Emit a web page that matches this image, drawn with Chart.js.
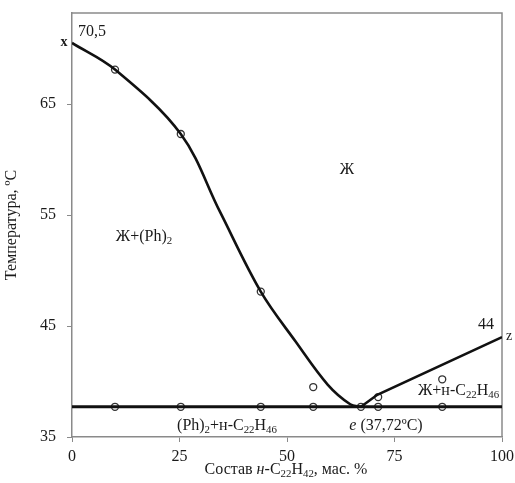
<!DOCTYPE html>
<html>
<head>
<meta charset="utf-8">
<script src="https://cdn.jsdelivr.net/npm/chart.js@4.4.1/dist/chart.umd.min.js"></script>
<style>
  html, body { margin: 0; padding: 0; background: #fff; }
</style>
</head>
<body>
<canvas id="phase-canvas" width="515" height="483"></canvas>
<script>
// liquidus of (Ph)2
var liquidusX = [0, 10, 25.3, 34.4, 43.9, 52, 59.5, 64.7, 67.2];
var liquidusT = [70.5, 68.1, 62.3, 55.3, 48.1, 43.6, 39.7, 37.95, 37.72];
// liquidus of n-C22H46
var rightX = [67.2, 71, 100];
var rightT = [37.72, 38.8, 44];
// eutectic horizontal
var eutecticX = [0, 100];
var eutecticT = [37.72, 37.72];
// experimental points (open circles)
var pointsX = [10, 25.3, 43.9, 56.1, 71.2, 86.1, 10, 25.3, 43.9, 56.1, 67.2, 71.2, 86.1];
var pointsT = [68.1, 62.3, 48.1, 39.5, 38.6, 40.2, 37.72, 37.72, 37.72, 37.72, 37.72, 37.72, 37.72];
// axis ticks
var xTicks = [0, 25, 50, 75, 100];
var yTicks = [35, 45, 55, 65];

var FONT = '"Liberation Serif", "Times New Roman", serif';
var AXIS_GRAY = '#8a8a8a';

function toXY(xs, ys) {
  return xs.map(function (x, i) { return { x: x, y: ys[i] }; });
}

// draw text made of pieces, some subscript / italic
function drawRich(ctx, segs, x, y, size, align) {
  var total = 0;
  segs.forEach(function (s) {
    var sz = s.sub ? size * 0.68 : size;
    ctx.font = (s.italic ? 'italic ' : '') + sz + 'px ' + FONT;
    s._w = ctx.measureText(s.t).width;
    total += s._w;
  });
  var cx = align === 'left' ? x : x - total / 2;
  ctx.textBaseline = 'middle';
  ctx.textAlign = 'left';
  segs.forEach(function (s) {
    var sz = s.sub ? size * 0.68 : size;
    ctx.font = (s.italic ? 'italic ' : '') + sz + 'px ' + FONT;
    ctx.fillText(s.t, cx, s.sub ? y + size * 0.28 : y);
    cx += s._w;
  });
}

var labels = [
  { segs: [{ t: '70,5' }], x: 92, y: 32, size: 16 },
  { segs: [{ t: 'x' }], x: 64, y: 42, size: 14, bold: true },
  { segs: [{ t: '44' }], x: 486, y: 325, size: 16 },
  { segs: [{ t: 'z' }], x: 509, y: 336, size: 14 },
  { segs: [{ t: 'Ж' }], x: 347, y: 170, size: 16 },
  { segs: [{ t: 'Ж+(Ph)' }, { t: '2', sub: true }], x: 144, y: 237, size: 16 },
  { segs: [{ t: '(Ph)' }, { t: '2', sub: true }, { t: '+н-C' }, { t: '22', sub: true }, { t: 'H' }, { t: '46', sub: true }], x: 227, y: 426, size: 16 },
  { segs: [{ t: 'е', italic: true }, { t: ' (37,72ºC)' }], x: 386, y: 426, size: 16 },
  { segs: [{ t: 'Ж+н-C' }, { t: '22', sub: true }, { t: 'H' }, { t: '46', sub: true }], x: 418, y: 391, size: 16, align: 'left' },
  { segs: [{ t: 'Состав ' }, { t: 'н', italic: true }, { t: '-C' }, { t: '22', sub: true }, { t: 'H' }, { t: '42', sub: true }, { t: ', мас. %' }], x: 286, y: 470, size: 16 }
];

var annotatePlugin = {
  id: 'annotate',
  beforeDatasetsDraw: function (chart) {
    var ctx = chart.ctx;
    var a = chart.chartArea;
    ctx.save();
    ctx.strokeStyle = AXIS_GRAY;
    ctx.lineWidth = 1.5;
    ctx.beginPath();
    ctx.moveTo(a.left, a.top);
    ctx.lineTo(a.right, a.top);
    ctx.lineTo(a.right, a.bottom);
    ctx.stroke();
    ctx.restore();
  },
  afterDraw: function (chart) {
    var ctx = chart.ctx;
    ctx.save();
    ctx.fillStyle = '#1a1a1a';
    labels.forEach(function (l) {
      if (l.bold) {
        ctx.font = 'bold ' + l.size + 'px ' + FONT;
        ctx.textAlign = 'center';
        ctx.textBaseline = 'middle';
        ctx.fillText(l.segs[0].t, l.x, l.y);
      } else {
        drawRich(ctx, l.segs, l.x, l.y, l.size, l.align);
      }
    });
    ctx.restore();
  }
};

var lineStyle = {
  borderColor: '#111',
  borderWidth: 2.6,
  pointRadius: 0,
  showLine: true,
  fill: false
};

new Chart(document.getElementById('phase-canvas'), {
  type: 'scatter',
  data: {
    datasets: [
      Object.assign({ data: toXY(liquidusX, liquidusT), tension: 0.35 }, lineStyle),
      Object.assign({ data: toXY(rightX, rightT), tension: 0 }, lineStyle),
      Object.assign({ data: toXY(eutecticX, eutecticT), tension: 0 }, lineStyle, { borderWidth: 3 }),
      {
        data: toXY(pointsX, pointsT),
        showLine: false,
        pointStyle: 'circle',
        pointRadius: 3.5,
        pointBorderWidth: 1.3,
        pointBorderColor: '#333',
        pointBackgroundColor: 'rgba(0,0,0,0)'
      }
    ]
  },
  options: {
    responsive: false,
    animation: false,
    layout: { padding: { top: 13, right: 13, left: 0, bottom: 0 } },
    plugins: { legend: { display: false }, tooltip: { enabled: false } },
    scales: {
      x: {
        type: 'linear',
        min: 0,
        max: 100,
        afterBuildTicks: function (scale) {
          scale.ticks = xTicks.map(function (v) { return { value: v }; });
        },
        afterFit: function (scale) {
          scale.height = 46;
          scale.paddingLeft = 0;
          scale.paddingRight = 0;
        },
        grid: { drawOnChartArea: false, tickLength: 5, color: AXIS_GRAY },
        border: { color: AXIS_GRAY, width: 1.5 },
        ticks: { color: '#1a1a1a', padding: 5, maxRotation: 0, font: { family: FONT, size: 16 } }
      },
      y: {
        type: 'linear',
        min: 35,
        max: 73.2,
        afterBuildTicks: function (scale) {
          scale.ticks = yTicks.map(function (v) { return { value: v }; });
        },
        afterFit: function (scale) {
          scale.width = 72;
          scale.paddingTop = 0;
          scale.paddingBottom = 0;
        },
        grid: { drawOnChartArea: false, tickLength: 5, color: AXIS_GRAY },
        border: { color: AXIS_GRAY, width: 1.5 },
        ticks: { color: '#1a1a1a', padding: 11, font: { family: FONT, size: 16 } },
        title: {
          display: true,
          text: 'Температура, ºC',
          color: '#1a1a1a',
          padding: { top: 2, bottom: 0 },
          font: { family: FONT, size: 16 }
        }
      }
    }
  },
  plugins: [annotatePlugin]
});
</script>
</body>
</html>
